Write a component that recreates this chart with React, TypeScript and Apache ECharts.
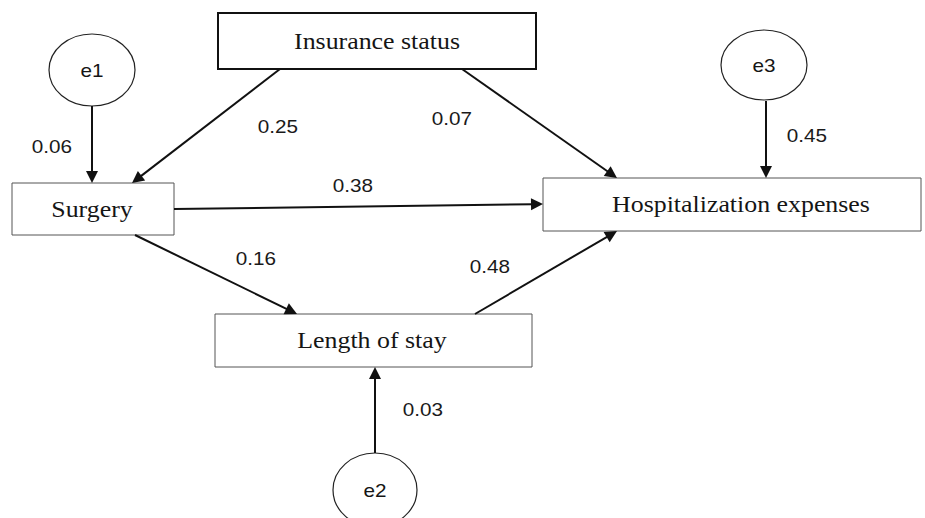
import React, { useEffect, useRef } from "react";
import * as echarts from "echarts";

// ---- data ----
const nodeNames = ["Insurance status", "Surgery", "Length of stay", "Hospitalization expenses"];
const errorNames = ["e1", "e2", "e3"];
const pathSources = ["Insurance status", "Insurance status", "Surgery", "Surgery", "Length of stay", "e1", "e2", "e3"];
const pathTargets = [
  "Surgery",
  "Hospitalization expenses",
  "Hospitalization expenses",
  "Length of stay",
  "Hospitalization expenses",
  "Surgery",
  "Length of stay",
  "Hospitalization expenses",
];
const pathCoefficients = [0.25, 0.07, 0.38, 0.16, 0.48, 0.06, 0.03, 0.45];

// ---- layout (positions in diagram units) ----
const boxLayout: Record<string, { x0: number; y0: number; x1: number; y1: number; tx: number; thick: boolean }> = {
  "Insurance status": { x0: 218, y0: 13, x1: 536, y1: 69, tx: 377, thick: true },
  Surgery: { x0: 12, y0: 183, x1: 174, y1: 235, tx: 92, thick: false },
  "Length of stay": { x0: 215, y0: 314, x1: 532, y1: 367, tx: 372, thick: false },
  "Hospitalization expenses": { x0: 543, y0: 178, x1: 921, y1: 231, tx: 741, thick: false },
};
const ellipseLayout: Record<string, { cx: number; cy: number; rx: number; ry: number }> = {
  e1: { cx: 92, cy: 70, rx: 43, ry: 36 },
  e2: { cx: 375, cy: 490, rx: 42, ry: 37 },
  e3: { cx: 764, cy: 65, rx: 43, ry: 35 },
};
const arrowLayout = [
  [280, 69, 132, 183],
  [462, 69, 617, 178],
  [174, 209, 543, 204],
  [135, 235, 297, 314],
  [475, 314, 617, 231],
  [92, 106, 92, 183],
  [375, 453, 375, 367],
  [766, 101, 766, 178],
];
const labelLayout = [
  [278, 127],
  [452, 119],
  [353, 186],
  [256, 259],
  [490, 267],
  [52, 147],
  [423, 410],
  [807, 136],
];

const W = 925;
const H = 518;
const SX = 1.15;

export default function App() {
  const ref = useRef<HTMLDivElement>(null);
  useEffect(() => {
    if (!ref.current) return;
    document.body.style.margin = "0";
    const chart = echarts.init(ref.current, null, { renderer: "svg" });

    const boxData = nodeNames.map((n, i) => {
      const b = boxLayout[n];
      return [b.x0, b.y0, b.x1, b.y1, i];
    });
    const ellData = errorNames.map((n, i) => {
      const e = ellipseLayout[n];
      return [e.cx, e.cy, e.rx, e.ry, i];
    });
    const arrowData = pathCoefficients.map((c, i) => [...arrowLayout[i], c, i]);
    const labelData = pathCoefficients.map((c, i) => [labelLayout[i][0], labelLayout[i][1], c, i]);

    const option: any = {
      animation: false,
      backgroundColor: "#ffffff",
      grid: { left: 0, right: 0, top: 0, bottom: 0, containLabel: false },
      xAxis: { type: "value", min: 0, max: W, show: false },
      yAxis: { type: "value", min: 0, max: H, inverse: true, show: false },
      tooltip: { show: false },
      series: [
        {
          type: "custom",
          name: "variables",
          coordinateSystem: "cartesian2d",
          clip: false,
          z: 2,
          encode: { x: [0, 2], y: [1, 3] },
          data: boxData,
          renderItem: (params: any, api: any) => {
            const p0 = api.coord([api.value(0), api.value(1)]);
            const p1 = api.coord([api.value(2), api.value(3)]);
            const name = nodeNames[api.value(4)];
            const b = boxLayout[name];
            const tp = api.coord([b.tx, (b.y0 + b.y1) / 2]);
            return {
              type: "group",
              children: [
                {
                  type: "rect",
                  shape: { x: p0[0], y: p0[1], width: p1[0] - p0[0], height: p1[1] - p0[1] },
                  style: {
                    fill: "#ffffff",
                    stroke: b.thick ? "#111111" : "#555555",
                    lineWidth: b.thick ? 2 : 1,
                  },
                },
                {
                  type: "text",
                  x: tp[0],
                  y: tp[1],
                  scaleX: SX,
                  style: {
                    text: name,
                    x: 0,
                    y: 0,
                    align: "center",
                    verticalAlign: "middle",
                    textAlign: "center",
                    textVerticalAlign: "middle",
                    font: '22.5px "Liberation Serif", "Times New Roman", serif',
                    fill: "#151515",
                  },
                },
              ],
            };
          },
        },
        {
          type: "custom",
          name: "errors",
          coordinateSystem: "cartesian2d",
          clip: false,
          z: 2,
          encode: { x: 0, y: 1 },
          data: ellData,
          renderItem: (params: any, api: any) => {
            const c = api.coord([api.value(0), api.value(1)]);
            const s = api.size([api.value(2), api.value(3)]);
            const name = errorNames[api.value(4)];
            return {
              type: "group",
              children: [
                {
                  type: "ellipse",
                  shape: { cx: c[0], cy: c[1], rx: s[0], ry: s[1] },
                  style: { fill: "#ffffff", stroke: "#222222", lineWidth: 1.2 },
                },
                {
                  type: "text",
                  x: c[0],
                  y: c[1] + 1,
                  scaleX: SX,
                  style: {
                    text: name,
                    x: 0,
                    y: 0,
                    align: "center",
                    verticalAlign: "middle",
                    textAlign: "center",
                    textVerticalAlign: "middle",
                    font: '18px "Liberation Sans", Arial, sans-serif',
                    fill: "#151515",
                  },
                },
              ],
            };
          },
        },
        {
          type: "custom",
          name: "paths",
          coordinateSystem: "cartesian2d",
          clip: false,
          z: 3,
          encode: { x: [0, 2], y: [1, 3] },
          data: arrowData,
          renderItem: (params: any, api: any) => {
            const a = api.coord([api.value(0), api.value(1)]);
            const b = api.coord([api.value(2), api.value(3)]);
            const dx = b[0] - a[0];
            const dy = b[1] - a[1];
            const len = Math.sqrt(dx * dx + dy * dy);
            const ux = dx / len;
            const uy = dy / len;
            const hl = 12;
            const hw = 6;
            const bx = b[0] - ux * hl;
            const by = b[1] - uy * hl;
            return {
              type: "group",
              children: [
                {
                  type: "line",
                  shape: { x1: a[0], y1: a[1], x2: bx + ux * 2, y2: by + uy * 2 },
                  style: { stroke: "#111111", lineWidth: 2 },
                },
                {
                  type: "polygon",
                  shape: {
                    points: [
                      [b[0], b[1]],
                      [bx - uy * hw, by + ux * hw],
                      [bx + uy * hw, by - ux * hw],
                    ],
                  },
                  style: { fill: "#111111", stroke: "none" },
                },
              ],
            };
          },
        },
        {
          type: "custom",
          name: "coefficients",
          coordinateSystem: "cartesian2d",
          clip: false,
          z: 4,
          encode: { x: 0, y: 1 },
          data: labelData,
          renderItem: (params: any, api: any) => {
            const p = api.coord([api.value(0), api.value(1)]);
            return {
              type: "text",
              x: p[0],
              y: p[1],
              scaleX: SX,
              style: {
                text: Number(api.value(2)).toFixed(2),
                x: 0,
                y: 0,
                align: "center",
                verticalAlign: "middle",
                textAlign: "center",
                textVerticalAlign: "middle",
                font: '18px "Liberation Sans", Arial, sans-serif',
                fill: "#1a1a1a",
              },
            };
          },
        },
      ],
    };
    chart.setOption(option);
    return () => chart.dispose();
  }, []);

  return <div ref={ref} style={{ width: W, height: H, background: "#fff" }} />;
}
